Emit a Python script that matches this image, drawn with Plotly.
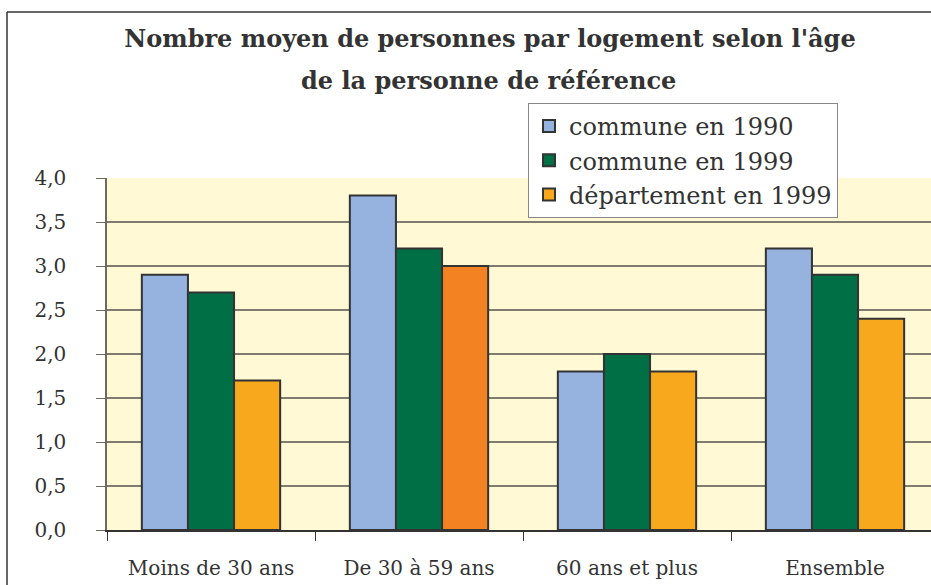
import plotly.graph_objects as go

categories = ["Moins de 30 ans", "De 30 à 59 ans", "60 ans et plus", "Ensemble"]
commune_1990 = [2.9, 3.8, 1.8, 3.2]
commune_1999 = [2.7, 3.2, 2.0, 2.9]
departement_1999 = [1.7, 3.0, 1.8, 2.4]
series_names = ["commune en 1990", "commune en 1999", "département en 1999"]
y_ticks = [0, 0.5, 1.0, 1.5, 2.0, 2.5, 3.0, 3.5, 4.0]
title_line1 = "Nombre moyen de personnes par logement selon l'âge"
title_line2 = "de la personne de référence"

blue = "#95B3DE"
green = "#006F45"
orange = "#F7A81D"
orange_dark = "#F28222"
dept_colors = [orange, orange_dark, orange, orange]

W, H = 931, 585
L, R, T, B = 107, 0, 178, 55
plot_w = W - L - R
plot_h = H - T - B
cat_px = 208.0

line_style = dict(color="#333333", width=2)
fig = go.Figure()
fig.add_trace(go.Bar(x=categories, y=commune_1990, name=series_names[0],
                     marker=dict(color=blue, line=line_style)))
fig.add_trace(go.Bar(x=categories, y=commune_1999, name=series_names[1],
                     marker=dict(color=green, line=line_style)))
fig.add_trace(go.Bar(x=categories, y=departement_1999, name=series_names[2],
                     marker=dict(color=dept_colors, line=line_style)))


def px_x(px):
    return (px - L) / plot_w


def px_y(py):
    return (H - B - py) / plot_h


serif = "DejaVu Serif, Liberation Serif, serif"
text_color = "#333333"
fig.update_layout(
    width=W, height=H,
    margin=dict(l=L, r=R, t=T, b=B, pad=0),
    paper_bgcolor="white",
    plot_bgcolor="#FFF9D6",
    separators=", ",
    barmode="group",
    bargap=0.335,
    bargroupgap=0,
    showlegend=True,
    font=dict(family=serif, color=text_color),
    title=dict(
        text="<b>" + title_line1 + "</b>",
        font=dict(family=serif, size=24, color=text_color),
        xref="container", x=490 / W, xanchor="center",
        yref="container", y=1 - 39 / H, yanchor="middle",
    ),
    legend=dict(
        x=px_x(528), y=px_y(103), xanchor="left", yanchor="top",
        bgcolor="white", bordercolor="#888888", borderwidth=1,
        font=dict(family=serif, size=24, color=text_color),
        itemsizing="constant", tracegroupgap=0,
    ),
    xaxis=dict(
        range=[-0.5, -0.5 + plot_w / cat_px],
        showline=True, linecolor="#333333", linewidth=1.5,
        ticks="outside", tickson="boundaries", ticklen=9, tickcolor="#333333",
        tickfont=dict(family=serif, size=20, color=text_color),
        ticklabelstandoff=19,
        showgrid=False,
    ),
    yaxis=dict(
        range=[0, 4.0],
        tickvals=y_ticks, tickformat=".1f",
        showline=True, linecolor="#6E6A60", linewidth=1.5,
        ticks="outside", ticklen=9, tickcolor="#6E6A60",
        tickfont=dict(family=serif, size=20, color=text_color),
        ticklabelstandoff=26,
        showgrid=True, gridcolor="#7F7B6E", gridwidth=1.5,
        zeroline=False,
    ),
)

fig.add_annotation(
    text="<b>" + title_line2 + "</b>", showarrow=False,
    xref="paper", yref="paper", x=px_x(488), y=px_y(81),
    xanchor="center", yanchor="middle",
    font=dict(family=serif, size=24, color=text_color),
)

# outer chart frame (left and top edges visible in the crop)
fx = px_x(7)
fy = px_y(12)
fig.add_shape(type="line", xref="paper", yref="paper", x0=fx, x1=fx, y0=px_y(600), y1=fy,
              line=dict(color="#333333", width=1.5))
fig.add_shape(type="line", xref="paper", yref="paper", x0=fx, x1=px_x(960), y0=fy, y1=fy,
              line=dict(color="#333333", width=1.5))

fig.write_html("out.html", config={"displayModeBar": False},
               post_script="document.body.style.margin='0';")
